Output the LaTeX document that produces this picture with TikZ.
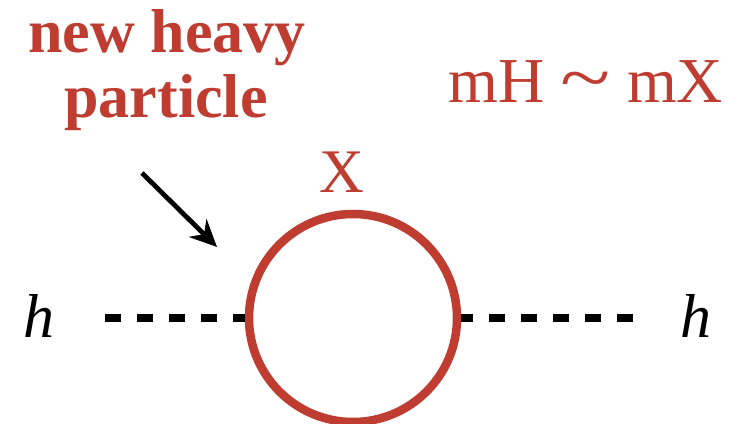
\documentclass[tikz,border=0pt]{standalone}
\usepackage{fontspec}
\setmainfont{Liberation Serif}
\usetikzlibrary{arrows.meta}
\definecolor{loopred}{RGB}{190,60,48}
\tikzset{
  redtext/.style={text=loopred, inner sep=0pt, anchor=base},
  higgs/.style={line width=8pt, dash pattern=on 16pt off 16pt, line cap=butt},
  loopstyle/.style={circle, draw=loopred, line width=8.5pt, minimum size=208pt, inner sep=0pt},
  pointer/.style={line width=4.8pt, -{Stealth[length=27pt,width=25pt]}}
}
\begin{document}
\begin{tikzpicture}[x=1pt,y=1pt]
\useasboundingbox (0,0) rectangle (735,423);
\clip (0,0) rectangle (735,423);
% loop
\node[loopstyle] (loop) at (353,105) {};
% external legs
\coordinate (lend) at (105,105);
\coordinate (rend) at (633,105);
\draw[higgs] (lend) -- (loop.west);
\draw[higgs] (rend) -- (loop.east);
% h labels
\node[anchor=base, inner sep=0pt, font=\fontsize{62}{62}\selectfont\itshape] (hL) at (39,86) {h};
\node[anchor=base, inner sep=0pt, font=\fontsize{62}{62}\selectfont\itshape] (hR) at (696,86) {h};
% X label
\node[redtext, font=\fontsize{62}{62}\selectfont] (X) at (342,230) {X};
% mass relation
\node[redtext, font=\fontsize{64}{64}\selectfont] (mass) at (586,320) {mH \scalebox{1.45}[1.15]{\textasciitilde}\ mX};
% new heavy particle
\node[redtext, font=\fontsize{62}{65}\selectfont\bfseries] (t1) at (167,370) {new heavy};
\node[redtext, font=\fontsize{62}{65}\selectfont\bfseries] (t2) at (166,305) {particle};
% arrow
\coordinate (astart) at (142,250);
\coordinate (atip) at (217,176);
\draw[pointer] (astart) -- (atip);
\end{tikzpicture}
\end{document}
